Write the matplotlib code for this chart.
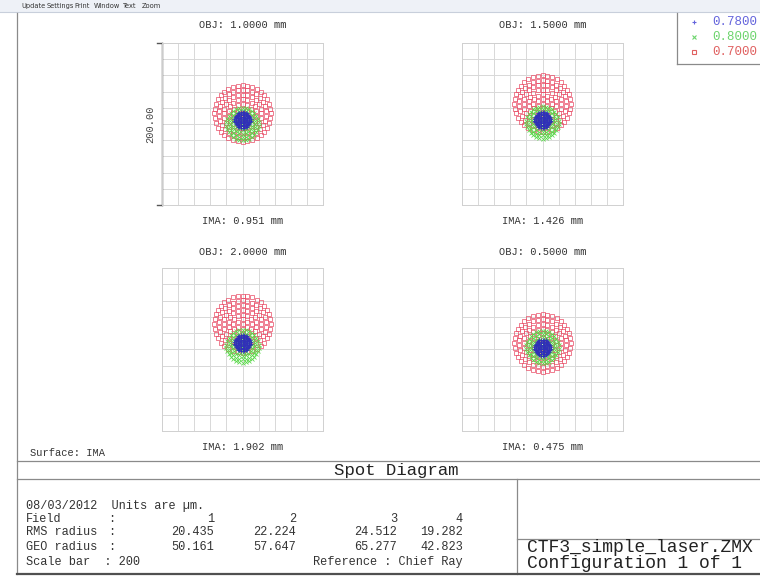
import numpy as np
import matplotlib
matplotlib.use('Agg')
import matplotlib.pyplot as plt
from matplotlib.patches import Rectangle

W, H = 760, 576
MONO = 'Liberation Mono'

# wavelengths (um) as listed in the legend, drawing order is reversed
wavelengths = ['0.7800', '0.8000', '0.7000']
wave_colors = ['#3030b8', '#58d848', '#e84a64']
legend_colors = ['#6464dc', '#6cd46c', '#e06060']
wave_markers = ['+', 'x', 's']

obj_labels = ['OBJ: 1.0000 mm', 'OBJ: 1.5000 mm', 'OBJ: 2.0000 mm', 'OBJ: 0.5000 mm']
ima_labels = ['IMA: 0.951 mm', 'IMA: 1.426 mm', 'IMA: 1.902 mm', 'IMA: 0.475 mm']

# spot size per wavelength (um), hexapolar rings traced
spot_radius = [10, 20, 35]
spot_rings = [5, 5, 6]
# vertical shift of each wavelength's spot from the chief ray, per field (um)
shift_blue = [5, 5, 8, 2]
shift_green = [0, 2, 4, 3]
shift_red = [13, 25, 31, 8]

field_no = ['1', '2', '3', '4']
rms_radius = ['20.435', '22.224', '24.512', '19.282']
geo_radius = ['50.161', '57.647', '65.277', '42.823']
scale_bar = 200

menu_items = ['Update', 'Settings', 'Print', 'Window', 'Text', 'Zoom']


def px_rect(x0, y0, w, h):
    return [x0 / W, 1 - (y0 + h) / H, w / W, h / H]


def hexapolar(radius, n_rings):
    xs, ys = [0.0], [0.0]
    for k in range(1, n_rings + 1):
        r = radius * k / n_rings
        ang = np.linspace(0, 2 * np.pi, 6 * k, endpoint=False) + np.pi / 2
        xs.extend(r * np.cos(ang))
        ys.extend(r * np.sin(ang))
    return np.array(xs), np.array(ys)


def spot_panel(fig, rect, field, with_bar=False):
    ax = fig.add_axes(px_rect(*rect))
    half = scale_bar / 2
    ax.set_xlim(-half, half)
    ax.set_ylim(-half, half)
    ax.set_xticks(np.arange(-half, half + 1, 20))
    ax.set_yticks(np.arange(-half, half + 1, 20))
    ax.grid(True, color='#d8d8d8', lw=0.7)
    ax.tick_params(length=0, labelbottom=False, labelleft=False)
    for s in ax.spines.values():
        s.set_color('#d0d0d0')
        s.set_linewidth(0.7)
    ax.set_axisbelow(True)

    shifts = [shift_blue[field], shift_green[field], shift_red[field]]
    # red first, blue on top
    for i in [2, 1, 0]:
        x, y = hexapolar(spot_radius[i], spot_rings[i])
        y = y + shifts[i]
        if wave_markers[i] == 's':
            ax.plot(x, y, ls='none', marker='s', ms=2.4, mfc='none',
                    mec=wave_colors[i], mew=0.55, alpha=0.9)
        else:
            ax.plot(x, y, ls='none', marker=wave_markers[i], ms=2.4,
                    color=wave_colors[i], mew=0.55)

    if with_bar:
        kw = dict(color='#555555', lw=1.0, clip_on=False)
        ax.plot([-half, -half], [-half, half], **kw)
        ax.plot([-half - 6, -half], [half, half], **kw)
        ax.plot([-half - 6, -half], [-half, -half], **kw)
        ax.text(-half - 15, 0, '%.2f' % scale_bar, rotation=90, ha='center',
                va='center', fontsize=7.5, family=MONO, color='#444444')
    return ax


def main():
    fig = plt.figure(figsize=(W / 100, H / 100), dpi=100)
    bg = fig.add_axes([0, 0, 1, 1])
    bg.set_xlim(0, W)
    bg.set_ylim(H, 0)
    bg.axis('off')

    # menu bar
    bg.add_patch(Rectangle((0, 0), W, 12, facecolor='#eef1f7', edgecolor='none'))
    bg.plot([0, W], [12, 12], color='#c8cfdb', lw=0.8)
    for name, x in zip(menu_items, [21, 47, 74, 94, 123, 142]):
        bg.text(x, 6, name, fontsize=4.8, va='center', color='#333333')

    # window frame
    line = dict(color='#8a8a8a', lw=0.9)
    bg.plot([17, 17], [13, 574], **line)
    bg.plot([17, W], [461, 461], **line)
    bg.plot([17, W], [479, 479], **line)
    bg.plot([517, 517], [479, 574], **line)
    bg.plot([517, W], [539, 539], **line)
    bg.plot([17, W], [574, 574], color='#505050', lw=1.6)

    # legend box
    bg.plot([677, 677], [13, 64], **line)
    bg.plot([677, W], [64, 64], **line)
    for i, (wl, y) in enumerate(zip(wavelengths, [22, 37, 52])):
        if wave_markers[i] == 's':
            bg.plot(694, y, marker='s', ms=2.8, mfc='none', mec=legend_colors[i], mew=0.8)
        else:
            bg.plot(694, y, marker=wave_markers[i], ms=3.2, color=legend_colors[i], mew=0.8)
        bg.text(712, y, wl, fontsize=9, family=MONO, va='center', color=legend_colors[i])

    # spot panels
    rects = [(162, 43, 161, 162), (462, 43, 161, 162),
             (162, 268, 161, 163), (462, 268, 161, 163)]
    label_y = [(25, 221), (25, 221), (252, 447), (252, 447)]
    for f, rect in enumerate(rects):
        spot_panel(fig, rect, f, with_bar=(f == 0))
        cx = rect[0] + rect[2] / 2
        bg.text(cx, label_y[f][0], obj_labels[f], ha='center', va='center',
                fontsize=7.5, family=MONO, color='#333333')
        bg.text(cx, label_y[f][1], ima_labels[f], ha='center', va='center',
                fontsize=7.5, family=MONO, color='#333333')

    bg.text(30, 453, 'Surface: IMA', fontsize=7.5, family=MONO, va='center', color='#333333')
    bg.text(396, 470, 'Spot Diagram', fontsize=12.5, family=MONO, ha='center',
            va='center', color='#222222')

    # text block
    t = dict(fontsize=8.6, family=MONO, va='center', color='#333333')
    rows_y = [506, 519, 532, 547, 562]
    bg.text(26, rows_y[0], '08/03/2012  Units are \u00b5m.', **t)
    for label, y in zip(['Field', 'RMS radius', 'GEO radius'], rows_y[1:4]):
        bg.text(26, y, label, **t)
        bg.text(108, y, ':', **t)
    bg.text(26, rows_y[4], 'Scale bar  : %d' % scale_bar, **t)
    col_x = [214, 296, 397, 463]
    for vals, y in zip([field_no, rms_radius, geo_radius], rows_y[1:4]):
        for v, x in zip(vals, col_x):
            bg.text(x, y, v, ha='right', **t)
    bg.text(463, rows_y[4], 'Reference : Chief Ray', ha='right', **t)

    bg.text(527, 548, 'CTF3_simple_laser.ZMX', fontsize=13, family=MONO,
            va='center', color='#222222')
    bg.text(527, 564, 'Configuration 1 of 1', fontsize=13, family=MONO,
            va='center', color='#222222')

    fig.savefig('out.png', dpi=100)


if __name__ == '__main__':
    main()
